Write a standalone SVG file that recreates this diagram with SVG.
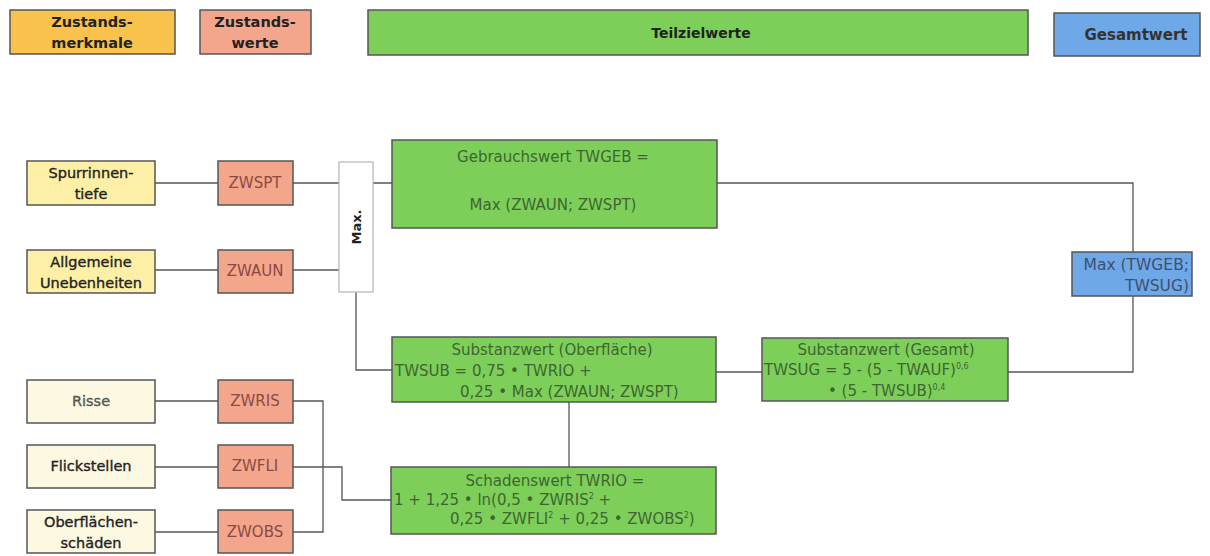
<svg xmlns="http://www.w3.org/2000/svg" width="1210" height="556" viewBox="0 0 1210 556">
<style>
text{font-family:"DejaVu Sans","Liberation Sans",sans-serif;font-size:13px}
.leg{font-weight:bold;fill:#222;font-size:14.5px}
.box{stroke:#555;stroke-width:1.5}
.or{fill:#f8c24c}
.sa{fill:#f4a68c}
.gr{fill:#7dcf5a}
.bl{fill:#6fa8e6}
.ye{fill:#fdf0a6}
.pa{fill:#fdf8e2}
.tY{fill:#222;font-size:14.5px;stroke:#222;stroke-width:0.35}
.tS{fill:#8a4a42;font-size:15px}
.tG{fill:#3d6630;font-size:15px}
.tB{fill:#3f4f70;font-size:15.5px}
.c{fill:none;stroke:#555;stroke-width:1.3}
.sup{font-size:8px}
</style>
<g id="legend">
<g id="leg-merkmale"><rect class="box or" x="10" y="10" width="165" height="44"/><text class="leg" x="92" y="27" text-anchor="middle">Zustands-</text><text class="leg" x="92" y="48" text-anchor="middle">merkmale</text></g>
<g id="leg-werte"><rect class="box sa" x="200" y="10" width="111" height="44"/><text class="leg" x="255" y="27" text-anchor="middle">Zustands-</text><text class="leg" x="255" y="48" text-anchor="middle">werte</text></g>
<g id="leg-teil"><rect class="box gr" x="368" y="10" width="660" height="45"/><text class="leg" x="701" y="38" text-anchor="middle" style="font-size:14px">Teilzielwerte</text></g>
<g id="leg-gesamt"><rect class="box bl" x="1054" y="13" width="146" height="43"/><text class="leg" x="1136" y="40" text-anchor="middle" style="font-size:15px;fill:#333">Gesamtwert</text></g>
</g>
<g id="connectors">
<path class="c" d="M155 183H218M293 183H339M373 183H392"/>
<path class="c" d="M155 270H218M293 270H339"/>
<path class="c" d="M356 292V370H392"/>
<path class="c" d="M717 183H1133V252"/>
<path class="c" d="M1133 296V372H1008"/>
<path class="c" d="M716 372H762"/>
<path class="c" d="M569 402V467"/>
<path class="c" d="M155 401H218M293 401H323V532H293M155 532H218"/>
<path class="c" d="M155 467H218M293 467H342V500H391"/>
</g>
<g id="n-spur"><rect class="box ye" x="27" y="161" width="128" height="44"/><text class="tY" x="91" y="178" text-anchor="middle">Spurrinnen-</text><text class="tY" x="91" y="199" text-anchor="middle">tiefe</text></g>
<g id="n-zwspt"><rect class="box sa" x="218" y="161" width="75" height="44"/><text class="tS" x="255" y="188" text-anchor="middle">ZWSPT</text></g>
<g id="n-allg"><rect class="box ye" x="27" y="250" width="128" height="43"/><text class="tY" x="91" y="267" text-anchor="middle">Allgemeine</text><text class="tY" x="91" y="288" text-anchor="middle">Unebenheiten</text></g>
<g id="n-zwaun"><rect class="box sa" x="218" y="250" width="75" height="43"/><text class="tS" x="255" y="276" text-anchor="middle">ZWAUN</text></g>
<g id="n-max"><rect x="339" y="162" width="34" height="130" fill="#fff" stroke="#bbb" stroke-width="1.3"/><text x="356" y="227" text-anchor="middle" transform="rotate(-90 356 227)" dy="5" fill="#222" font-weight="bold" font-size="14">Max.</text></g>
<g id="n-geb"><rect class="box gr" x="392" y="140" width="325" height="88"/><text class="tG" x="553" y="162" text-anchor="middle">Gebrauchswert TWGEB =</text><text class="tG" x="553" y="210" text-anchor="middle">Max (ZWAUN; ZWSPT)</text></g>
<g id="n-gesamtmax"><rect class="box bl" x="1072" y="252" width="120" height="44"/><text class="tB" x="1189" y="270" text-anchor="end">Max (TWGEB;</text><text class="tB" x="1189" y="291" text-anchor="end">TWSUG)</text></g>
<g id="n-subo"><rect class="box gr" x="392" y="337" width="324" height="65"/><text class="tG" x="552" y="355" text-anchor="middle">Substanzwert (Oberfläche)</text><text class="tG" x="395" y="376">TWSUB = 0,75 • TWRIO +</text><text class="tG" x="460" y="397">0,25 • Max (ZWAUN; ZWSPT)</text></g>
<g id="n-subg"><rect class="box gr" x="762" y="338" width="246" height="63"/><text class="tG" x="886" y="355" text-anchor="middle">Substanzwert (Gesamt)</text><text class="tG" x="764" y="375">TWSUG = 5 - (5 - TWAUF)<tspan class="sup" dy="-6">0,6</tspan></text><text class="tG" x="828" y="396">• (5 - TWSUB)<tspan class="sup" dy="-6">0,4</tspan></text></g>
<g id="n-schaden"><rect class="box gr" x="391" y="467" width="325" height="67"/><text class="tG" x="555" y="486" text-anchor="middle">Schadenswert TWRIO =</text><text class="tG" x="394" y="505">1 + 1,25 • ln(0,5 • ZWRIS<tspan class="sup" dy="-6">2</tspan><tspan dy="6"> +</tspan></text><text class="tG" x="450" y="524">0,25 • ZWFLI<tspan class="sup" dy="-6">2</tspan><tspan dy="6"> + 0,25 • ZWOBS</tspan><tspan class="sup" dy="-6">2</tspan><tspan dy="6">)</tspan></text></g>
<g id="n-risse"><rect class="box pa" x="27" y="380" width="128" height="43"/><text class="tY" x="91" y="406" text-anchor="middle" style="fill:#555;stroke:#555">Risse</text></g>
<g id="n-zwris"><rect class="box sa" x="218" y="380" width="75" height="43"/><text class="tS" x="255" y="406" text-anchor="middle">ZWRIS</text></g>
<g id="n-flick"><rect class="box pa" x="27" y="445" width="128" height="43"/><text class="tY" x="91" y="471" text-anchor="middle">Flickstellen</text></g>
<g id="n-zwfli"><rect class="box sa" x="218" y="445" width="75" height="43"/><text class="tS" x="255" y="471" text-anchor="middle">ZWFLI</text></g>
<g id="n-obs"><rect class="box pa" x="27" y="510" width="128" height="43"/><text class="tY" x="91" y="527" text-anchor="middle">Oberflächen-</text><text class="tY" x="91" y="548" text-anchor="middle">schäden</text></g>
<g id="n-zwobs"><rect class="box sa" x="218" y="510" width="75" height="43"/><text class="tS" x="255" y="537" text-anchor="middle">ZWOBS</text></g>
</svg>
